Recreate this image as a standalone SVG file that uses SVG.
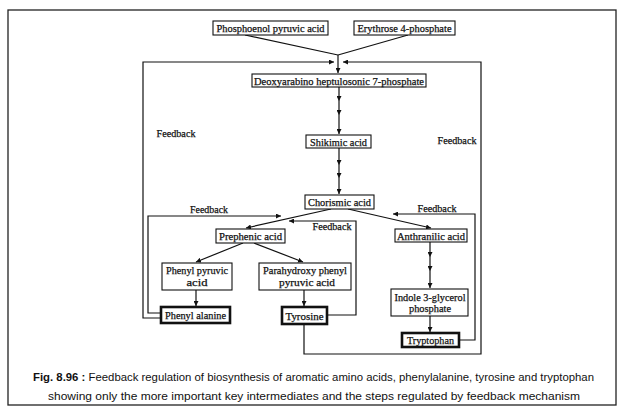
<svg xmlns="http://www.w3.org/2000/svg" width="624" height="414" viewBox="0 0 624 414">
<style>
.bg{fill:#fff}
.frame{fill:none;stroke:#222;stroke-width:1.3}
.box{fill:#fff;stroke:#111;stroke-width:1.1}
.tbox{fill:#fff;stroke:#111;stroke-width:2.6}
.t{font-family:"Liberation Serif",serif;font-size:11px;fill:#111;stroke:#111;stroke-width:0.25;text-anchor:middle}
.fb{font-family:"Liberation Serif",serif;font-size:11px;fill:#111;stroke:#111;stroke-width:0.25;text-anchor:middle}
.ln{fill:none;stroke:#111;stroke-width:1.2}
.cap{font-family:"Liberation Sans",Arial,sans-serif;font-size:11.5px;fill:#111;text-anchor:middle}
</style>
<defs>
<marker id="ah" viewBox="0 0 10 10" refX="10" refY="5" markerWidth="5" markerHeight="5" markerUnits="userSpaceOnUse" orient="auto">
<path d="M0,0 L10,5 L0,10 Z" fill="#111"/>
</marker>
</defs>
<rect class="bg" x="0" y="0" width="624" height="414"/>
<rect class="frame" x="8" y="10" width="608" height="395"/>

<g id="connectors">
<path class="ln" d="M245,35 L338,55 M408,35 L338,55"/>
<path class="ln" d="M338,55 L338,73" marker-end="url(#ah)"/>
<polyline class="ln" points="161,318 143,318 143,62 334,62" marker-end="url(#ah)"/>
<polyline class="ln" points="304,324 304,354 481,354 481,62 343,62" marker-end="url(#ah)"/>
<polyline class="ln" points="161,313 148,313 148,216 281,216" marker-end="url(#ah)"/>
<polyline class="ln" points="327,315 356,315 356,221 289,221" marker-end="url(#ah)"/>
<polyline class="ln" points="459,340 475,340 475,214 393,214" marker-end="url(#ah)"/>
<polyline class="ln" points="339,87 339,101 339,115 339,134" marker-mid="url(#ah)" marker-end="url(#ah)"/>
<polyline class="ln" points="339,148 339,165 339,178 339,194" marker-mid="url(#ah)" marker-end="url(#ah)"/>
<path class="ln" d="M331,209 L246,228" marker-end="url(#ah)"/>
<path class="ln" d="M348,209 L431,228" marker-end="url(#ah)"/>
<path class="ln" d="M243,243 L196,262" marker-end="url(#ah)"/>
<path class="ln" d="M254,243 L303,262" marker-end="url(#ah)"/>
<path class="ln" d="M196,290 L196,306" marker-end="url(#ah)"/>
<path class="ln" d="M304,290 L304,306" marker-end="url(#ah)"/>
<polyline class="ln" points="430,242 430,257 430,271 430,288" marker-mid="url(#ah)" marker-end="url(#ah)"/>
<path class="ln" d="M430,316 L430,332" marker-end="url(#ah)"/>
</g>

<g id="labels">
<text class="fb" x="176" y="137" textLength="39" lengthAdjust="spacingAndGlyphs">Feedback</text>
<text class="fb" x="457" y="144" textLength="39" lengthAdjust="spacingAndGlyphs">Feedback</text>
<text class="fb" x="209" y="213" textLength="38" lengthAdjust="spacingAndGlyphs">Feedback</text>
<text class="fb" x="332" y="230" textLength="39" lengthAdjust="spacingAndGlyphs">Feedback</text>
<text class="fb" x="437" y="212" textLength="39" lengthAdjust="spacingAndGlyphs">Feedback</text>
</g>

<g id="pep"><rect class="box" x="213" y="21" width="115" height="14"/><text class="t" x="270.5" y="32" textLength="108" lengthAdjust="spacingAndGlyphs">Phosphoenol pyruvic acid</text></g>
<g id="e4p"><rect class="box" x="354" y="21" width="101" height="14"/><text class="t" x="404.5" y="32" textLength="94" lengthAdjust="spacingAndGlyphs">Erythrose 4-phosphate</text></g>
<g id="dahp"><rect class="box" x="252" y="74" width="174" height="13"/><text class="t" x="339" y="84.5" textLength="170" lengthAdjust="spacingAndGlyphs">Deoxyarabino heptulosonic 7-phosphate</text></g>
<g id="shikimic"><rect class="box" x="306" y="135" width="65" height="13"/><text class="t" x="338.5" y="145.5" textLength="57" lengthAdjust="spacingAndGlyphs">Shikimic acid</text></g>
<g id="chorismic"><rect class="box" x="305" y="195" width="69" height="14"/><text class="t" x="339.5" y="206" textLength="63" lengthAdjust="spacingAndGlyphs">Chorismic acid</text></g>
<g id="prephenic"><rect class="box" x="216" y="229" width="69" height="14"/><text class="t" x="250.5" y="240" textLength="63" lengthAdjust="spacingAndGlyphs">Prephenic acid</text></g>
<g id="phenylpyruvic"><rect class="box" x="162" y="263" width="70" height="27"/><text class="t" x="197" y="274" textLength="62" lengthAdjust="spacingAndGlyphs">Phenyl pyruvic</text><text class="t" x="197" y="285.5" textLength="21" lengthAdjust="spacingAndGlyphs">acid</text></g>
<g id="parahydroxy"><rect class="box" x="259" y="263" width="92" height="27"/><text class="t" x="305" y="274" textLength="84" lengthAdjust="spacingAndGlyphs">Parahydroxy phenyl</text><text class="t" x="307" y="285.5" textLength="56" lengthAdjust="spacingAndGlyphs">pyruvic acid</text></g>
<g id="phenylalanine"><rect class="tbox" x="161" y="307" width="69" height="16"/><text class="t" x="195.5" y="319" textLength="61" lengthAdjust="spacingAndGlyphs">Phenyl alanine</text></g>
<g id="tyrosine"><rect class="tbox" x="282" y="307" width="45" height="17"/><text class="t" x="304.5" y="319.5" textLength="38" lengthAdjust="spacingAndGlyphs">Tyrosine</text></g>
<g id="anthranilic"><rect class="box" x="395" y="229" width="72" height="13"/><text class="t" x="431" y="239.5" textLength="68" lengthAdjust="spacingAndGlyphs">Anthranilic acid</text></g>
<g id="indole"><rect class="box" x="391" y="289" width="77" height="27"/><text class="t" x="430" y="301" textLength="71" lengthAdjust="spacingAndGlyphs">Indole 3-glycerol</text><text class="t" x="430" y="312" textLength="42" lengthAdjust="spacingAndGlyphs">phosphate</text></g>
<g id="tryptophan"><rect class="tbox" x="402" y="333" width="57" height="14"/><text class="t" x="430.5" y="344" textLength="47" lengthAdjust="spacingAndGlyphs">Tryptophan</text></g>

<g id="caption">
<text class="cap" x="313.5" y="381" textLength="561" lengthAdjust="spacingAndGlyphs"><tspan font-weight="bold">Fig. 8.96 :</tspan> Feedback regulation of biosynthesis of aromatic amino acids, phenylalanine, tyrosine and tryptophan</text>
<text class="cap" x="314" y="400" textLength="532" lengthAdjust="spacingAndGlyphs">showing only the more important key intermediates and the steps regulated by feedback mechanism</text>
</g>
</svg>
